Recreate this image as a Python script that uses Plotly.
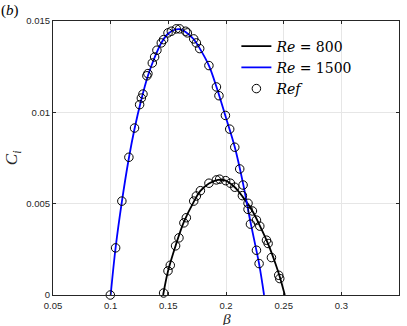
import plotly.graph_objects as go

# curve Re = 800 (black)
beta_800 = [0.1455, 0.1497, 0.1563, 0.1635, 0.1720, 0.1778, 0.1852, 0.1930,
            0.1997, 0.2076, 0.2142, 0.2229, 0.2293, 0.2365, 0.2430, 0.2466, 0.2510]
ci_800 = [0.0, 0.0013, 0.0027, 0.0040, 0.0051, 0.0057, 0.0061, 0.0063,
          0.00626, 0.0059, 0.0054, 0.0046, 0.0038, 0.0028, 0.0017, 0.0010, 0.0]

# curve Re = 1500 (blue)
beta_1500 = [0.1000, 0.1043, 0.1097, 0.1158, 0.1207, 0.1266, 0.1323, 0.1381,
             0.1439, 0.1497, 0.1555, 0.1600, 0.1650, 0.1720, 0.1772, 0.1852,
             0.1917, 0.1995, 0.2076, 0.2148, 0.2212, 0.2287, 0.2330]
ci_1500 = [0.0, 0.0026, 0.0051, 0.0075, 0.0091, 0.0107, 0.0120, 0.0130,
           0.0138, 0.0143, 0.01452, 0.01455, 0.0144, 0.0140, 0.0135, 0.01256,
           0.0114, 0.0098, 0.0081, 0.0061, 0.0040, 0.0017, 0.0]

# reference points (circles)
ref_beta = [0.0997, 0.1043, 0.1097, 0.1158, 0.1207, 0.1251, 0.1266, 0.1280,
            0.1314, 0.1323, 0.1361, 0.1381, 0.1401, 0.1439, 0.1459, 0.1497,
            0.1526, 0.1569, 0.1598, 0.1650, 0.1665, 0.1720, 0.1743, 0.1772,
            0.1852, 0.1917, 0.1939, 0.1995, 0.2032, 0.2076, 0.2119, 0.2148,
            0.2191, 0.2212, 0.2264, 0.2287,
            0.1459, 0.1497, 0.1517, 0.1563, 0.1592, 0.1635, 0.1656, 0.1720,
            0.1743, 0.1778, 0.1852, 0.1917, 0.1945, 0.1997, 0.2038, 0.2076,
            0.2142, 0.2191, 0.2229, 0.2264, 0.2293, 0.2351, 0.2365, 0.2394,
            0.2457, 0.2466]
ref_ci = [0.0, 0.00258, 0.00514, 0.00754, 0.00914, 0.01042, 0.01078, 0.0110,
          0.0120, 0.01212, 0.0127, 0.01303, 0.0134, 0.0138, 0.01398, 0.01435,
          0.01444, 0.01457, 0.01457, 0.01444, 0.01435, 0.01402, 0.0138, 0.01349,
          0.01256, 0.01139, 0.01091, 0.00983, 0.00908, 0.00809, 0.0069, 0.00602,
          0.00502, 0.00388, 0.00245, 0.00172,
          0.00011, 0.00132, 0.00163, 0.00269, 0.00313, 0.00395, 0.00423, 0.00514,
          0.00542, 0.00571, 0.00612, 0.0063, 0.00634, 0.00626, 0.00612, 0.0059,
          0.00544, 0.00469, 0.0046, 0.0041, 0.00377, 0.0030, 0.00282, 0.00205,
          0.00108, 0.0009]

x_ticks = [0.05, 0.1, 0.15, 0.2, 0.25, 0.3, 0.35]
x_labels = ["0.05", "0.1", "0.15", "0.2", "0.25", "0.3", "0.35"]
y_ticks = [0, 0.005, 0.01, 0.015]
y_labels = ["0", "0.005", "0.01", "0.015"]

serif = "Liberation Serif"
axis_col = "#262626"

fig = go.Figure()
fig.add_trace(go.Scatter(x=beta_800, y=ci_800, mode="lines", name="<i>Re</i> = 800",
                         line=dict(color="black", width=1.8, shape="spline"),
                         cliponaxis=False))
fig.add_trace(go.Scatter(x=beta_1500, y=ci_1500, mode="lines", name="<i>Re</i> = 1500",
                         line=dict(color="#0000ff", width=1.8, shape="spline"),
                         cliponaxis=False))
fig.add_trace(go.Scatter(x=ref_beta, y=ref_ci, mode="markers", name="<i>Ref</i>",
                         marker=dict(symbol="circle-open", size=8.5, color="black",
                                     line=dict(width=1)),
                         cliponaxis=False))

axis_common = dict(showline=True, linecolor=axis_col, linewidth=1, mirror="ticks",
                   ticks="inside", ticklen=3, tickcolor=axis_col, automargin=False,
                   showgrid=True, gridcolor="#e6e6e6", gridwidth=1, zeroline=False,
                   tickfont=dict(family="Liberation Sans", size=9.5, color=axis_col))

fig.update_xaxes(range=[0.05, 0.35], tickvals=x_ticks, ticktext=x_labels,
                 ticklabelstandoff=2, **axis_common)
fig.update_yaxes(range=[0, 0.015], tickvals=y_ticks, ticktext=y_labels, **axis_common)

# axis titles and panel label
fig.add_annotation(text="<i>β</i>", xref="paper", yref="paper", x=0.501, y=-0.0855,
                   xanchor="center", yanchor="middle", showarrow=False, height=13,
                   font=dict(family=serif, size=15.5, color=axis_col))
fig.add_annotation(text="<i>C</i><sub><i>i</i></sub>", xref="paper", yref="paper",
                   x=-0.115, y=0.50, xanchor="center", yanchor="middle", showarrow=False,
                   textangle=-90, font=dict(family=serif, size=17, color=axis_col))
fig.add_annotation(text="(<i>b</i>)", xref="paper", yref="paper", x=-0.155, y=1.04,
                   xanchor="left", yanchor="middle", showarrow=False,
                   font=dict(family=serif, size=15, color="black"))

fig.update_layout(
    width=407, height=326,
    margin=dict(l=53, r=8, t=21, b=31),
    plot_bgcolor="white", paper_bgcolor="white",
    legend=dict(x=0.53, y=0.965, xanchor="left", yanchor="top",
                bgcolor="rgba(0,0,0,0)",
                font=dict(family="DejaVu Serif", size=14, color="black"),
                tracegroupgap=0, itemwidth=30),
    showlegend=True,
)

# drop the default page margin so the figure sits at the window's corner
fig.write_html("out.html", config={"displayModeBar": False},
               post_script="document.body.style.margin='0';")
